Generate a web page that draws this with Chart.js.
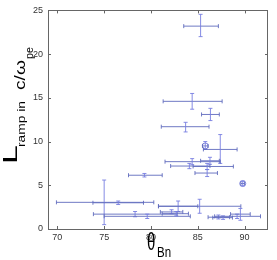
<!DOCTYPE html>
<html>
<head>
<meta charset="utf-8">
<script src="https://cdn.jsdelivr.net/npm/chart.js@4.4.1/dist/chart.umd.min.js"></script>
<style>
  body { margin: 0; background: #fff; }
  #wrap { width: 277px; height: 260px; position: relative; }
</style>
</head>
<body>
<div id="wrap"><canvas id="myChart"></canvas></div>
<script>
  // theta_Bn (deg) and L_ramp (c/omega_pe), with error bar ends
  const thetaBn = [85.3, 84.4, 86.35, 83.7, 85.8, 87.4, 84.4, 86.3, 84.1, 86.0, 86.0, 89.8, 79.3, 75.0, 76.5, 82.9, 85.2, 78.3, 79.6, 82.2, 82.7, 87.2, 87.7, 89.2, 89.55];
  const thetaLo = [83.5, 81.3, 85.4, 81.1, 85.5, 85.6, 81.5, 85.3, 82.1, 84.5, 84.7, 89.6, 77.6, 69.9, 73.8, 80.8, 80.8, 73.85, 75.0, 81.0, 81.2, 86.1, 86.6, 86.8, 88.5];
  const thetaHi = [87.2, 87.6, 87.3, 86.2, 86.1, 89.2, 87.4, 87.3, 86.3, 88.8, 87.1, 90.0, 81.2, 80.3, 79.2, 85.0, 89.6, 82.8, 84.2, 83.4, 84.0, 88.4, 88.7, 91.7, 90.6];
  const lramp = [23.2, 14.6, 13.1, 11.7, 9.5, 9.1, 7.7, 7.8, 7.2, 7.15, 6.4, 5.2, 6.15, 3.05, 3.0, 2.6, 2.6, 1.7, 1.45, 1.95, 1.75, 1.35, 1.3, 1.45, 1.7];
  const lrampLo = [22.0, 13.7, 12.4, 11.1, 9.1, 7.5, 7.35, 7.4, 6.9, 6.8, 6.0, 4.95, 5.95, 0.5, 2.8, 2.0, 1.8, 1.4, 1.2, 1.75, 1.5, 1.15, 1.1, 1.2, 1.0];
  const lrampHi = [24.55, 15.5, 13.8, 12.2, 10.0, 10.8, 8.05, 8.2, 7.5, 7.5, 6.8, 5.45, 6.35, 5.6, 3.2, 3.2, 3.4, 2.0, 1.7, 2.2, 2.0, 1.6, 1.5, 1.7, 2.35];
  const circled = [4, 11];

  const xTicks = [70, 75, 80, 85, 90];
  const yTicks = [0, 5, 10, 15, 20, 25];

  const fontName = "'Liberation Sans', Arial, sans-serif";
  const frameColor = '#666';

  const errorBars = {
    id: 'errorBars',
    afterDatasetsDraw(chart) {
      const ctx = chart.ctx;
      const xs = chart.scales.x;
      const ys = chart.scales.y;
      ctx.save();
      ctx.lineWidth = 1;
      thetaBn.forEach((t, i) => {
        const px = xs.getPixelForValue(t);
        const py = ys.getPixelForValue(lramp[i]);
        const x0 = xs.getPixelForValue(thetaLo[i]);
        const x1 = xs.getPixelForValue(thetaHi[i]);
        const y0 = ys.getPixelForValue(lrampLo[i]);
        const y1 = ys.getPixelForValue(lrampHi[i]);
        ctx.strokeStyle = 'rgba(96,108,190,0.9)';
        ctx.beginPath();
        ctx.moveTo(x0, py); ctx.lineTo(x1, py);
        ctx.moveTo(x0, py - 2); ctx.lineTo(x0, py + 2);
        ctx.moveTo(x1, py - 2); ctx.lineTo(x1, py + 2);
        ctx.stroke();
        ctx.strokeStyle = 'rgba(120,126,225,0.9)';
        ctx.beginPath();
        ctx.moveTo(px, y0); ctx.lineTo(px, y1);
        ctx.moveTo(px - 2, y0); ctx.lineTo(px + 2, y0);
        ctx.moveTo(px - 2, y1); ctx.lineTo(px + 2, y1);
        ctx.stroke();
      });
      ctx.restore();
    }
  };

  const frame = {
    id: 'frame',
    afterDraw(chart) {
      const ctx = chart.ctx;
      const a = chart.chartArea;
      const xs = chart.scales.x;
      const ys = chart.scales.y;
      ctx.save();
      ctx.strokeStyle = frameColor;
      ctx.lineWidth = 1;
      ctx.strokeRect(Math.round(a.left) + 0.5, Math.round(a.top) + 0.5, Math.round(a.right - a.left) - 1, Math.round(a.bottom - a.top));
      ctx.beginPath();
      xTicks.forEach((v) => {
        const px = Math.round(xs.getPixelForValue(v)) + 0.5;
        ctx.moveTo(px, a.bottom); ctx.lineTo(px, a.bottom - 3);
        ctx.moveTo(px, a.top); ctx.lineTo(px, a.top + 3);
      });
      yTicks.forEach((v) => {
        const py = Math.round(ys.getPixelForValue(v)) + 0.5;
        ctx.moveTo(a.left, py); ctx.lineTo(a.left + 3, py);
        ctx.moveTo(a.right, py); ctx.lineTo(a.right - 3, py);
      });
      ctx.stroke();
      ctx.restore();
    }
  };

  // draws a text run, stretched to a given length
  function stretchRun(ctx, text, size, x, y, len, vertical) {
    ctx.save();
    ctx.font = size + 'px ' + fontName;
    const w = ctx.measureText(text).width;
    ctx.translate(x, y);
    if (vertical) {
      ctx.rotate(-Math.PI / 2);
      ctx.scale(len / w, 1);
    } else {
      ctx.scale(1, len);
    }
    ctx.fillText(text, 0, 0);
    ctx.restore();
  }

  const axisTitles = {
    id: 'axisTitles',
    afterDraw(chart) {
      const ctx = chart.ctx;
      ctx.save();
      ctx.fillStyle = '#000';
      ctx.textAlign = 'left';
      ctx.textBaseline = 'alphabetic';
      stretchRun(ctx, 'L', 21, 17, 164, 19, true);
      stretchRun(ctx, 'ramp in', 11, 25, 147, 46, true);
      stretchRun(ctx, 'c/\u03c9', 15, 25, 90, 30, true);
      stretchRun(ctx, 'pe', 10, 33, 59, 12, true);
      stretchRun(ctx, '\u03b8', 15, 147, 250, 1.55, false);
      stretchRun(ctx, 'Bn', 11.5, 157, 257, 1.25, false);
      ctx.restore();
    }
  };

  function makeChart(target) {
    const points = thetaBn.map((t, i) => ({ x: t, y: lramp[i] }));
    const radii = thetaBn.map((t, i) => (circled.includes(i) ? 3 : 0));
    return new Chart(target, {
      type: 'scatter',
      data: {
        datasets: [{
          data: points,
          pointRadius: radii,
          pointBorderColor: 'rgba(110,118,215,0.9)',
          pointBackgroundColor: 'rgba(0,0,0,0)',
          pointBorderWidth: 1
        }]
      },
      options: {
        responsive: true,
        maintainAspectRatio: false,
        animation: false,
        layout: { padding: { top: 6, right: 9, left: 0, bottom: 0 } },
        plugins: { legend: { display: false }, tooltip: { enabled: false } },
        scales: {
          x: {
            type: 'linear',
            min: 69,
            max: 92.5,
            afterBuildTicks: (scale) => { scale.ticks = xTicks.map((v) => ({ value: v })); },
            afterFit: (scale) => { scale.height = 31; },
            grid: { display: false, drawTicks: false },
            border: { display: false },
            ticks: { padding: 3, color: '#333', font: { size: 9, family: fontName } }
          },
          y: {
            min: 0,
            max: 25,
            afterBuildTicks: (scale) => { scale.ticks = yTicks.map((v) => ({ value: v })); },
            afterFit: (scale) => { scale.width = 48; },
            grid: { display: false, drawTicks: false },
            border: { display: false },
            ticks: { padding: 5, color: '#333', font: { size: 9, family: fontName } }
          }
        }
      },
      plugins: [errorBars, frame, axisTitles]
    });
  }

  document.addEventListener('DOMContentLoaded', () => makeChart(document.querySelector('#myChart')));
</script>
</body>
</html>
